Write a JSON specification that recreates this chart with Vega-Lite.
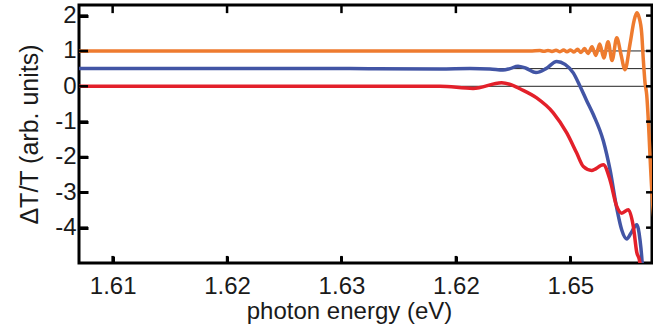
{
  "$schema": "https://vega.github.io/schema/vega-lite/v6.json",
  "width": 573,
  "height": 258,
  "autosize": "none",
  "padding": {"left": 79, "top": 5, "right": 1, "bottom": 68},
  "config": {
    "view": {"stroke": "#000", "strokeWidth": 3},
    "font": "Liberation Sans"
  },
  "datasets": {
    "refs": [{"y": 1}, {"y": 0.5}, {"y": 0}],
    "xticks": [{"v": 1.61}, {"v": 1.62}, {"v": 1.63}, {"v": 1.64}, {"v": 1.65}],
    "yticks": [{"v": -4}, {"v": -3}, {"v": -2}, {"v": -1}, {"v": 0}, {"v": 1}, {"v": 2}],
    "curves": [
      {"s": "top", "x": 1.60706, "y": 1.0},
      {"s": "top", "x": 1.61763, "y": 1.0},
      {"s": "top", "x": 1.63074, "y": 1.0},
      {"s": "top", "x": 1.63949, "y": 1.0},
      {"s": "top", "x": 1.64648, "y": 1.0},
      {"s": "top", "x": 1.64735, "y": 1.01},
      {"s": "top", "x": 1.64770, "y": 0.99},
      {"s": "top", "x": 1.64805, "y": 1.015},
      {"s": "top", "x": 1.64840, "y": 0.985},
      {"s": "top", "x": 1.64875, "y": 1.02},
      {"s": "top", "x": 1.64910, "y": 0.98},
      {"s": "top", "x": 1.64941, "y": 1.025},
      {"s": "top", "x": 1.64971, "y": 0.975},
      {"s": "top", "x": 1.65002, "y": 1.03},
      {"s": "top", "x": 1.65032, "y": 0.97},
      {"s": "top", "x": 1.65063, "y": 1.045},
      {"s": "top", "x": 1.65094, "y": 0.955},
      {"s": "top", "x": 1.65124, "y": 1.07},
      {"s": "top", "x": 1.65155, "y": 0.93},
      {"s": "top", "x": 1.65190, "y": 1.12},
      {"s": "top", "x": 1.65223, "y": 0.87},
      {"s": "top", "x": 1.65257, "y": 1.2},
      {"s": "top", "x": 1.65293, "y": 0.8},
      {"s": "top", "x": 1.65330, "y": 1.26},
      {"s": "top", "x": 1.65365, "y": 0.73},
      {"s": "top", "x": 1.65406, "y": 1.37},
      {"s": "top", "x": 1.65443, "y": 0.9},
      {"s": "top", "x": 1.65478, "y": 0.47},
      {"s": "top", "x": 1.65522, "y": 1.2},
      {"s": "top", "x": 1.65557, "y": 1.85},
      {"s": "top", "x": 1.65581, "y": 2.08},
      {"s": "top", "x": 1.65601, "y": 1.95},
      {"s": "top", "x": 1.65624, "y": 1.5},
      {"s": "top", "x": 1.65638, "y": 0.76},
      {"s": "top", "x": 1.65653, "y": 0.1},
      {"s": "top", "x": 1.65668, "y": -0.25},
      {"s": "top", "x": 1.65684, "y": -1.1},
      {"s": "top", "x": 1.65697, "y": -2.0},
      {"s": "top", "x": 1.65717, "y": -3.2},
      {"s": "top", "x": 1.65732, "y": -3.8},
      {"s": "middle", "x": 1.60706, "y": 0.5},
      {"s": "middle", "x": 1.61763, "y": 0.5},
      {"s": "middle", "x": 1.63074, "y": 0.5},
      {"s": "middle", "x": 1.63861, "y": 0.49},
      {"s": "middle", "x": 1.64123, "y": 0.5},
      {"s": "middle", "x": 1.64298, "y": 0.49},
      {"s": "middle", "x": 1.64412, "y": 0.46},
      {"s": "middle", "x": 1.64473, "y": 0.5},
      {"s": "middle", "x": 1.64543, "y": 0.57},
      {"s": "middle", "x": 1.64613, "y": 0.51},
      {"s": "middle", "x": 1.64700, "y": 0.39},
      {"s": "middle", "x": 1.64788, "y": 0.5},
      {"s": "middle", "x": 1.64881, "y": 0.7},
      {"s": "middle", "x": 1.64954, "y": 0.62},
      {"s": "middle", "x": 1.65026, "y": 0.38},
      {"s": "middle", "x": 1.65085, "y": 0.0},
      {"s": "middle", "x": 1.65142, "y": -0.4},
      {"s": "middle", "x": 1.65201, "y": -0.8},
      {"s": "middle", "x": 1.65289, "y": -1.55},
      {"s": "middle", "x": 1.65347, "y": -2.36},
      {"s": "middle", "x": 1.65406, "y": -3.45},
      {"s": "middle", "x": 1.65449, "y": -4.06},
      {"s": "middle", "x": 1.65493, "y": -4.32},
      {"s": "middle", "x": 1.65531, "y": -4.15},
      {"s": "middle", "x": 1.65581, "y": -3.92},
      {"s": "middle", "x": 1.65609, "y": -4.34},
      {"s": "middle", "x": 1.65624, "y": -4.82},
      {"s": "middle", "x": 1.65636, "y": -5.4},
      {"s": "bottom", "x": 1.60706, "y": 0.0},
      {"s": "bottom", "x": 1.61763, "y": 0.0},
      {"s": "bottom", "x": 1.63074, "y": 0.0},
      {"s": "bottom", "x": 1.63861, "y": 0.0},
      {"s": "bottom", "x": 1.64150, "y": -0.06},
      {"s": "bottom", "x": 1.64400, "y": 0.1},
      {"s": "bottom", "x": 1.64502, "y": 0.02},
      {"s": "bottom", "x": 1.64560, "y": -0.07},
      {"s": "bottom", "x": 1.64706, "y": -0.33},
      {"s": "bottom", "x": 1.64851, "y": -0.75},
      {"s": "bottom", "x": 1.64969, "y": -1.32},
      {"s": "bottom", "x": 1.65056, "y": -1.89},
      {"s": "bottom", "x": 1.65114, "y": -2.27},
      {"s": "bottom", "x": 1.65187, "y": -2.38},
      {"s": "bottom", "x": 1.65289, "y": -2.22},
      {"s": "bottom", "x": 1.65347, "y": -2.65},
      {"s": "bottom", "x": 1.65406, "y": -3.4},
      {"s": "bottom", "x": 1.65449, "y": -3.59},
      {"s": "bottom", "x": 1.65507, "y": -3.49},
      {"s": "bottom", "x": 1.65551, "y": -3.97},
      {"s": "bottom", "x": 1.65581, "y": -4.7},
      {"s": "bottom", "x": 1.65603, "y": -4.9},
      {"s": "bottom", "x": 1.65622, "y": -5.3}
    ]
  },
  "layer": [
    {
      "data": {"name": "refs"},
      "mark": {"type": "rule", "color": "#222", "strokeWidth": 1},
      "encoding": {
        "y": {"field": "y", "type": "quantitative", "scale": {"domain": [-5, 2.3], "nice": false, "zero": false}, "axis": null}
      }
    },
    {
      "data": {"name": "curves"},
      "mark": {"type": "line", "strokeWidth": 3.5, "clip": true, "interpolate": "monotone"},
      "encoding": {
        "x": {"field": "x", "type": "quantitative", "scale": {"domain": [1.60706, 1.65714], "nice": false, "zero": false},
          "axis": {"orient": "bottom", "values": [1.61, 1.62, 1.63, 1.64, 1.65], "grid": false, "domain": false, "ticks": true, "tickColor": "#000", "tickWidth": 3, "tickSize": -7, "labelFontSize": 24, "labelPadding": 18, "labelFlush": false, "labelColor": "#1a1a1a",
            "labelExpr": "datum.value > 1.635 && datum.value < 1.645 ? '1.62' : format(datum.value, '.2f')",
            "title": "photon energy (eV)", "titleFontSize": 24, "titleFontWeight": "normal", "titleColor": "#1a1a1a", "titlePadding": 1, "titleX": 270, "titleAnchor": "middle"}},
        "y": {"field": "y", "type": "quantitative", "scale": {"domain": [-5, 2.3], "nice": false, "zero": false},
          "axis": {"orient": "left", "values": [-4, -3, -2, -1, 0, 1, 2], "grid": false, "domain": false, "ticks": true, "tickColor": "#000", "tickWidth": 3, "tickSize": -9, "labelFontSize": 24, "labelPadding": 12, "labelColor": "#1a1a1a",
            "labelExpr": "'' + datum.value", "title": "ΔT/T (arb. units)", "titleFontSize": 25, "titleFontWeight": "normal", "titleColor": "#1a1a1a", "titlePadding": 12}},
        "color": {"field": "s", "type": "nominal", "sort": ["top", "middle", "bottom"],
          "scale": {"domain": ["top", "middle", "bottom"], "range": ["#EE7B2F", "#4255A5", "#E3202A"]}, "legend": null}
      }
    },
    {
      "data": {"name": "xticks"},
      "mark": {"type": "rule", "color": "#000", "strokeWidth": 2.5},
      "encoding": {
        "x": {"field": "v", "type": "quantitative", "scale": {"domain": [1.60706, 1.65714], "nice": false, "zero": false}, "axis": null},
        "y": {"datum": -5, "type": "quantitative", "scale": {"domain": [-5, 2.3], "nice": false, "zero": false}, "axis": null},
        "y2": {"datum": -4.8}
      }
    },
    {
      "data": {"name": "xticks"},
      "mark": {"type": "rule", "color": "#000", "strokeWidth": 2.5},
      "encoding": {
        "x": {"field": "v", "type": "quantitative", "scale": {"domain": [1.60706, 1.65714], "nice": false, "zero": false}, "axis": null},
        "y": {"datum": 2.3, "type": "quantitative", "scale": {"domain": [-5, 2.3], "nice": false, "zero": false}, "axis": null},
        "y2": {"datum": 2.07}
      }
    },
    {
      "data": {"name": "yticks"},
      "mark": {"type": "rule", "color": "#000", "strokeWidth": 2.5},
      "encoding": {
        "y": {"field": "v", "type": "quantitative", "scale": {"domain": [-5, 2.3], "nice": false, "zero": false}, "axis": null},
        "x": {"datum": 1.60706, "type": "quantitative", "scale": {"domain": [1.60706, 1.65714], "nice": false, "zero": false}, "axis": null},
        "x2": {"datum": 1.60785}
      }
    },
    {
      "data": {"name": "yticks"},
      "mark": {"type": "rule", "color": "#000", "strokeWidth": 2.5},
      "encoding": {
        "y": {"field": "v", "type": "quantitative", "scale": {"domain": [-5, 2.3], "nice": false, "zero": false}, "axis": null},
        "x": {"datum": 1.65714, "type": "quantitative", "scale": {"domain": [1.60706, 1.65714], "nice": false, "zero": false}, "axis": null},
        "x2": {"datum": 1.65662}
      }
    }
  ],
  "resolve": {"axis": {"x": "independent", "y": "independent"}}
}
